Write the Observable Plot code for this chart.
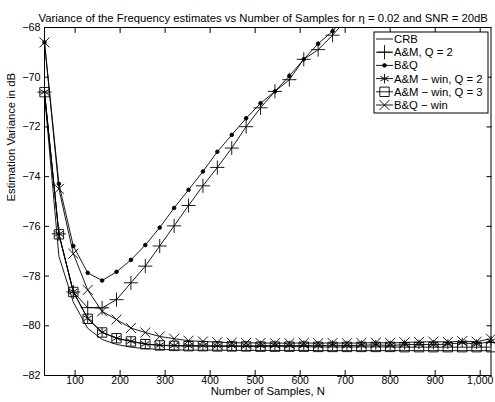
<!DOCTYPE html>
<html><head><meta charset="utf-8">
<script src="https://cdn.jsdelivr.net/npm/d3@7"></script>
<script src="https://cdn.jsdelivr.net/npm/@observablehq/plot@0.6"></script>
<style>body{margin:0;background:#fff;}</style>
</head><body><div id="chart"></div>
<script>
const N = [32,64,96,128,160,192,224,256,288,320,352,384,416,448,480,512,544,576,608,640,672,704,736,768,800,832,864,896,928,960,992,1024];
const crb = [-70.7,-77.2,-79.05,-80.1,-80.55,-80.75,-80.86,-80.92,-80.95,-80.97,-80.98,-80.98,-80.98,-80.99,-80.99,-80.99,-80.99,-80.99,-80.99,-81.0,-81.0,-81.0,-81.0,-81.0,-81.0,-81.0,-81.0,-81.0,-81.0,-81.0,-81.0,-81.0];
const amQ2 = [-70.6,-76.3,-78.64,-79.27,-79.28,-78.95,-78.27,-77.6,-76.79,-75.98,-75.16,-74.37,-73.63,-72.85,-71.99,-71.23,-70.57,-70.1,-69.28,-68.89,-68.31,-67.65,null,null,null,null,null,null,null,null,null,null];
const bq = [-68.6,-74.29,-76.79,-77.87,-78.18,-77.83,-77.35,-76.75,-76.05,-75.26,-74.53,-73.79,-73.0,-72.32,-71.65,-71.05,-70.57,-69.95,-69.28,-68.65,-68.15,-67.5,null,null,null,null,null,null,null,null,null,null];
const amWinQ2 = [-70.6,-76.3,-78.62,-79.7,-80.26,-80.5,-80.62,-80.73,-80.78,-80.79,-80.8,-80.8,-80.81,-80.8,-80.81,-80.8,-80.79,-80.8,-80.79,-80.8,-80.78,-80.8,-80.78,-80.77,-80.79,-80.76,-80.75,-80.76,-80.74,-80.68,-80.74,-80.62];
const amWinQ3 = [-70.6,-76.32,-78.64,-79.72,-80.27,-80.5,-80.63,-80.74,-80.79,-80.81,-80.82,-80.82,-80.83,-80.83,-80.83,-80.84,-80.84,-80.84,-80.84,-80.85,-80.85,-80.85,-80.85,-80.85,-80.85,-80.86,-80.86,-80.86,-80.86,-80.86,-80.86,-80.86];
const bqWin = [-68.6,-74.49,-77.1,-78.56,-79.42,-79.75,-80.09,-80.27,-80.43,-80.52,-80.6,-80.63,-80.66,-80.68,-80.69,-80.69,-80.7,-80.7,-80.69,-80.7,-80.69,-80.7,-80.69,-80.68,-80.69,-80.67,-80.65,-80.64,-80.65,-80.62,-80.64,-80.52];
const xTicks = [100,200,300,400,500,600,700,800,900,1000];
const yTicks = [-82,-80,-78,-76,-74,-72,-70,-68];
const seriesNames = ["CRB","A&M, Q = 2","B&Q","A&M \u2212 win, Q = 2","A&M \u2212 win, Q = 3","B&Q \u2212 win"];
const title = "Variance of the Frequency estimates vs Number of Samples for \u03b7 = 0.02 and SNR = 20dB";
const xLabel = "Number of Samples, N";
const yLabel = "Estimation Variance in dB";

const seriesValues = [crb, amQ2, bq, amWinQ2, amWinQ3, bqWin];
const symbols = [null, "plus", "circle", "asterisk", "square", "times"];
const symR = [0, 4.6, 1.8, 4.6, 5.3, 4.6];
const symFill = ["none", "none", "black", "none", "none", "none"];

const rows = [];
seriesValues.forEach((vals, si) => vals.forEach((v, i) => rows.push({N: N[i], v, s: si})));

const marks = [
  Plot.axisX(xTicks, {anchor: "bottom", tickSize: 0, tickPadding: 1, label: null, fontSize: 10.5}),
  Plot.axisY(yTicks, {anchor: "left", tickSize: 0, tickPadding: 4, label: null, fontSize: 10.8}),
  Plot.axisX(xTicks, {anchor: "bottom", tickSize: -5, tickFormat: () => "", label: null}),
  Plot.axisX(xTicks, {anchor: "top", tickSize: -5, tickFormat: () => "", label: null}),
  Plot.axisY(yTicks, {anchor: "left", tickSize: -5, tickFormat: () => "", label: null}),
  Plot.axisY(yTicks, {anchor: "right", tickSize: -5, tickFormat: () => "", label: null}),
];
seriesValues.forEach((vals, si) => {
  const d = rows.filter(r => r.s === si);
  marks.push(Plot.line(d, {x: "N", y: "v", stroke: "black", strokeWidth: 0.9, clip: true}));
  if (symbols[si]) {
    marks.push(Plot.dot(d.filter(r => r.v != null && r.v >= -82 && r.v <= -68), {x: "N", y: "v", symbol: () => symbols[si], r: symR[si], stroke: "black", fill: symFill[si], strokeWidth: 0.9}));
  }
});
marks.push(Plot.frame({stroke: "black", strokeWidth: 1}));
marks.push(Plot.text([title], {frameAnchor: "top-left", dx: -6, dy: -13.5, textAnchor: "start", text: d => d, fontSize: 11.3, fill: "black"}));
marks.push(Plot.text([xLabel], {frameAnchor: "bottom", dy: 19.5, text: d => d, fontSize: 11.3, fill: "black"}));
marks.push(Plot.text([yLabel], {frameAnchor: "left", dx: -33, rotate: -90, text: d => d, fontSize: 11.3, fill: "black"}));

const chart = Plot.plot({
  width: 495, height: 402,
  marginTop: 27, marginBottom: 27, marginLeft: 44, marginRight: 4.5,
  style: {fontFamily: "'Liberation Sans', Arial, sans-serif", fontSize: "10px", color: "black", background: "white", overflow: "hidden"},
  x: {type: "linear", domain: [32, 1024]},
  y: {type: "linear", domain: [-82, -68]},
  symbol: {type: "identity"},
  marks
});
document.getElementById("chart").appendChild(chart);

// legend
const svg = d3.select(chart);
const lg = svg.append("g").attr("transform", "translate(374,32)").attr("text-anchor", "start");
lg.append("rect").attr("width", 114).attr("height", 81).attr("fill", "white").attr("stroke", "black").attr("stroke-width", 1);
seriesNames.forEach((name, i) => {
  const cy = 7 + i * 13.2;
  lg.append("line").attr("x1", 2).attr("x2", 19).attr("y1", cy).attr("y2", cy).attr("stroke", "black").attr("stroke-width", 0.9);
  if (symbols[i]) {
    const sym = {plus: d3.symbolPlus, circle: d3.symbolCircle, asterisk: d3.symbolAsterisk, square: d3.symbolSquare, times: d3.symbolTimes}[symbols[i]];
    lg.append("path").attr("transform", `translate(10.5,${cy})`)
      .attr("d", d3.symbol(sym, Math.PI * symR[i] * symR[i])())
      .attr("fill", symFill[i]).attr("stroke", "black").attr("stroke-width", 0.9);
  }
  lg.append("text").attr("x", 20).attr("y", cy).attr("dy", "0.35em").attr("text-anchor", "start").attr("font-size", 11.3).attr("fill", "black").text(name);
});
</script>
</body></html>
